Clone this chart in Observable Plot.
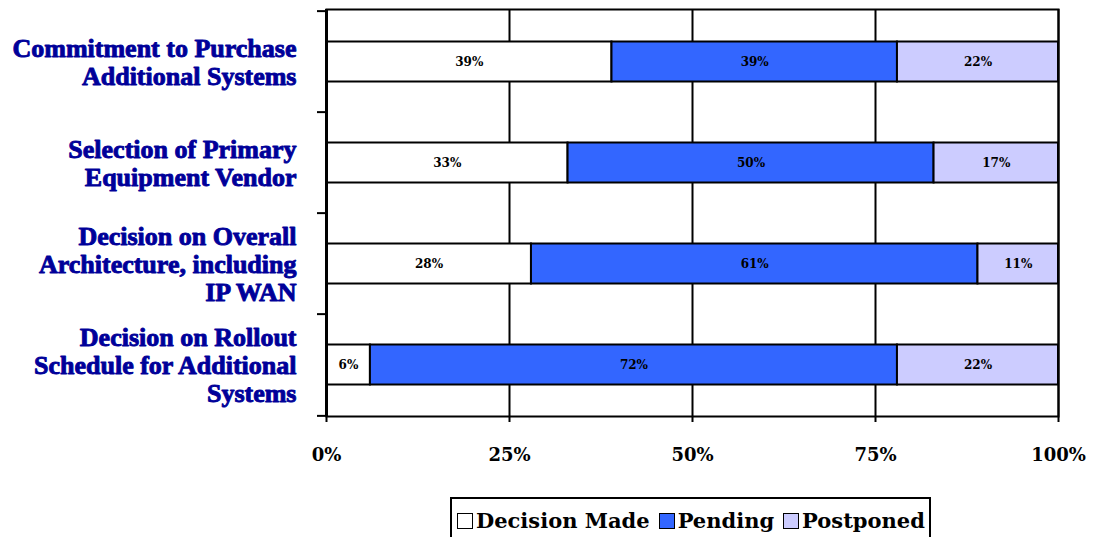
<!DOCTYPE html>
<html>
<head>
<meta charset="utf-8">
<script src="https://cdn.jsdelivr.net/npm/d3@7"></script>
<script src="https://cdn.jsdelivr.net/npm/@observablehq/plot@0.6"></script>
<style>
  html, body { margin: 0; padding: 0; background: #fff; }
  #chart { width: 1095px; }
  .legend {
    margin-left: 450px; margin-top: 27px;
    display: inline-flex; align-items: center; gap: 0;
    border: 2px solid #000; border-bottom: none;
    padding: 9px 4px 6px 5px;
    font-family: "DejaVu Serif", serif; font-weight: bold; font-size: 21px; color: #000;
  }
  .legend .item { display: inline-flex; align-items: center; margin-right: 9px; }
  .legend .item:last-child { margin-right: 0; }
  .legend .sw { width: 16px; height: 16px; border: 1.5px solid #000; margin-right: 3px; box-sizing: border-box; }
</style>
</head>
<body>
<div id="chart"></div>
<script>
const categories = [
  "Commitment to Purchase\nAdditional Systems",
  "Selection of Primary\nEquipment Vendor",
  "Decision on Overall\nArchitecture, including\nIP WAN",
  "Decision on Rollout\nSchedule for Additional\nSystems"
];
const series = ["Decision Made", "Pending", "Postponed"];
const decisionMade = [39, 33, 28, 6];
const pending = [39, 50, 61, 72];
const postponed = [22, 17, 11, 22];
const colors = ["#ffffff", "#3366ff", "#ccccff"];
const xTicks = [0, 25, 50, 75, 100];

const values = [decisionMade, pending, postponed];
const data = [];
categories.forEach((c, i) => {
  series.forEach((s, j) => data.push({category: c, series: s, value: values[j][i]}));
});

const W = 1095, H = 470, mT = 9, mB = 54, mL = 326, mR = 37;
const step = (H - mT - mB) / categories.length;

const plot = Plot.plot({
  width: W, height: H,
  marginLeft: mL, marginRight: mR, marginTop: mT, marginBottom: mB,
  style: {background: "#fff"},
  x: {domain: [0, 100], label: null},
  y: {domain: categories, padding: 0, label: null},
  color: {domain: series, range: colors},
  marks: [
    Plot.gridX(xTicks, {stroke: "#000", strokeOpacity: 1, strokeWidth: 2}),
    Plot.barX(data, Plot.stackX({
      x: "value", y: "category", z: "series", order: series,
      fill: "series", stroke: "#000", strokeWidth: 2,
      insetTop: 30.5, insetBottom: 30.5
    })),
    Plot.text(data, Plot.stackX({
      x: "value", y: "category", z: "series", order: series,
      text: d => d.value + "%",
      fontFamily: "DejaVu Serif", fontWeight: "bold", fontSize: 12,
      letterSpacing: "2px", fill: "#000"
    })),
    Plot.frame({stroke: "#000", strokeWidth: 2}),
    Plot.ruleX([0], {stroke: "#000", strokeWidth: 3}),
    Plot.axisY({ticks: categories, tickSize: 9, tickFormat: null, label: null, dy: -step / 2, stroke: "#000", strokeWidth: 2}),
    Plot.axisY({ticks: categories.slice(-1), tickSize: 9, tickFormat: null, label: null, dy: step / 2, stroke: "#000", strokeWidth: 2}),
    Plot.text(categories, {
      y: d => d, frameAnchor: "left", dx: -30, textAnchor: "end",
      lineHeight: 1.08,
      fontFamily: "Liberation Serif", fontWeight: "bold", fontSize: 26,
      letterSpacing: "-1.3px", fill: "#000099", stroke: "#000099", strokeWidth: 0.9
    }),
    Plot.axisX({
      ticks: xTicks, tickSize: 6, tickPadding: 26, stroke: "#000", strokeWidth: 2,
      tickFormat: d => d + "%", label: null,
      fontFamily: "DejaVu Serif", fontWeight: "bold", fontSize: 18, fill: "#000"
    })
  ]
});
document.getElementById("chart").appendChild(plot);

const legend = document.createElement("div");
legend.className = "legend";
series.forEach((s, j) => {
  const item = document.createElement("span");
  item.className = "item";
  const sw = document.createElement("span");
  sw.className = "sw";
  sw.style.background = colors[j];
  item.appendChild(sw);
  item.appendChild(document.createTextNode(s));
  legend.appendChild(item);
});
document.getElementById("chart").appendChild(legend);
</script>
</body>
</html>
